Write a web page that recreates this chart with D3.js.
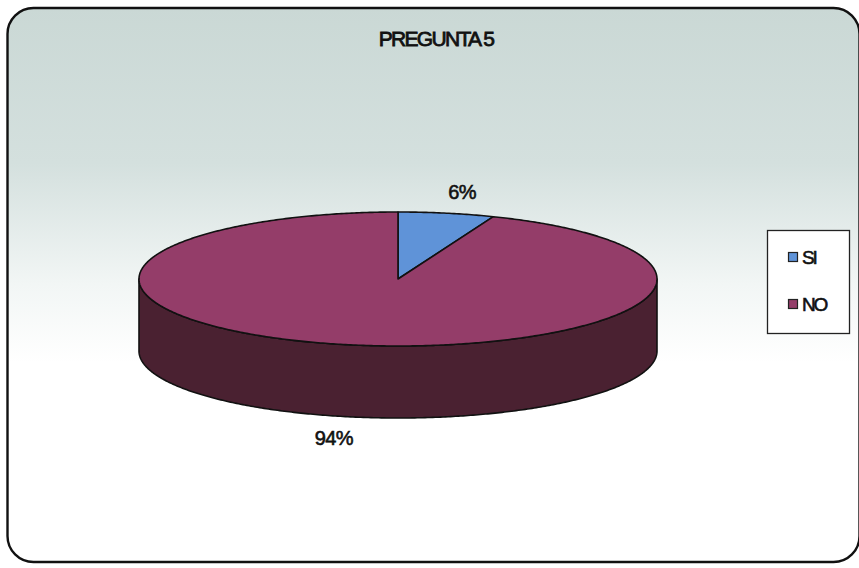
<!DOCTYPE html>
<html>
<head>
<meta charset="utf-8">
<script src="https://cdn.jsdelivr.net/npm/d3@7"></script>
<style>
  html, body { margin: 0; padding: 0; background: #ffffff; }
  svg { display: block; }
  text { font-family: "Liberation Sans", Arial, sans-serif; fill: #111; }
</style>
</head>
<body>
<svg id="chart" width="859" height="568"></svg>
<script>
const title = "PREGUNTA 5";
const categories = ["SI", "NO"];
const values = [6, 94];
const labels = ["6%", "94%"];
const colors = ["#5f93d8", "#943d69"];
const sideColors = ["#2f4f80", "#4a2131"];

const W = 859, H = 568;
const svg = d3.select("#chart");

const defs = svg.append("defs");
const grad = defs.append("linearGradient").attr("id", "bg").attr("x1", 0).attr("y1", 0).attr("x2", 0).attr("y2", 1);
grad.append("stop").attr("offset", "0%").attr("stop-color", "#cad8d5");
grad.append("stop").attr("offset", "28%").attr("stop-color", "#d4e0de");
grad.append("stop").attr("offset", "50%").attr("stop-color", "#f2f6f5");
grad.append("stop").attr("offset", "64%").attr("stop-color", "#ffffff");
grad.append("stop").attr("offset", "100%").attr("stop-color", "#ffffff");

svg.append("rect")
  .attr("x", 7.5).attr("y", 8).attr("width", 852).attr("height", 554)
  .attr("rx", 26).attr("ry", 26)
  .attr("fill", "url(#bg)").attr("stroke", "#111").attr("stroke-width", 2.4);

// title
svg.append("text")
  .attr("x", 436).attr("y", 46)
  .attr("text-anchor", "middle")
  .attr("font-size", 21)
  .attr("letter-spacing", "-1.7px")
  .attr("stroke", "#111").attr("stroke-width", 0.8)
  .text(title);

// 3D pie
const cx = 398, cy = 279, rx = 259, ry = 67, depth = 72;
const pie = d3.pie().sort(null).value(d => d)(values);
const ex = a => cx + rx * Math.sin(a);
const ey = a => cy - ry * Math.cos(a);

function arcPoints(a0, a1, dy) {
  const n = Math.max(2, Math.ceil(Math.abs(a1 - a0) / 0.01));
  return d3.range(n + 1).map(i => {
    const a = a0 + (a1 - a0) * i / n;
    return [ex(a), ey(a) + dy];
  });
}

const line = d3.line();
const g = svg.append("g");

// side walls (front half: angles PI/2 .. 3PI/2)
pie.forEach((d, i) => {
  const a0 = Math.max(d.startAngle, Math.PI / 2);
  const a1 = Math.min(d.endAngle, 3 * Math.PI / 2);
  if (a1 <= a0) return;
  const top = arcPoints(a0, a1, 0);
  const bottom = arcPoints(a1, a0, depth);
  g.append("path")
    .attr("d", line(top.concat(bottom)) + "Z")
    .attr("fill", sideColors[i])
    .attr("stroke", "#111").attr("stroke-width", 1.6)
    .attr("stroke-linejoin", "round");
});

// top faces
pie.forEach((d, i) => {
  const pts = [[cx, cy]].concat(arcPoints(d.startAngle, d.endAngle, 0));
  g.append("path")
    .attr("d", line(pts) + "Z")
    .attr("fill", colors[i])
    .attr("stroke", "#111").attr("stroke-width", 1.6)
    .attr("stroke-linejoin", "round");
});

// labels
const k = 1.32;
pie.forEach((d, i) => {
  const m = (d.startAngle + d.endAngle) / 2;
  const x = cx + rx * k * Math.sin(m);
  let y = cy - ry * k * Math.cos(m);
  if (Math.cos(m) < 0) y += depth;
  svg.append("text")
    .attr("x", x).attr("y", y + 7)
    .attr("text-anchor", "middle")
    .attr("font-size", 20)
    .attr("letter-spacing", "-0.6px")
    .attr("stroke", "#111").attr("stroke-width", 0.6)
    .text(labels[i]);
});

// legend
const lg = svg.append("g");
lg.append("rect")
  .attr("x", 767.5).attr("y", 230.5).attr("width", 82).attr("height", 103)
  .attr("fill", "#ffffff").attr("stroke", "#222").attr("stroke-width", 1.3);
const ly = d3.scalePoint().domain(categories).range([257, 304]);
categories.forEach((c, i) => {
  lg.append("rect")
    .attr("x", 788.5).attr("y", ly(c) - 4.5).attr("width", 9).attr("height", 9)
    .attr("fill", colors[i]).attr("stroke", "#222").attr("stroke-width", 1.2);
  lg.append("text")
    .attr("x", 802).attr("y", ly(c) + 7)
    .attr("font-size", 19)
    .attr("letter-spacing", "-2.2px")
    .attr("stroke", "#111").attr("stroke-width", 0.6)
    .text(c);
});
</script>
</body>
</html>
